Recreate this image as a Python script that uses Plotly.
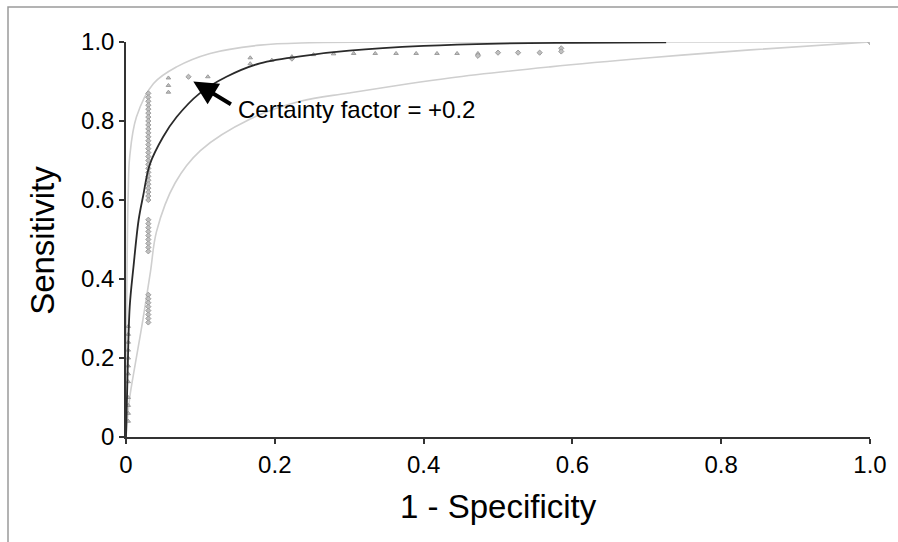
import plotly.graph_objects as go

# Fitted ROC curve (black)
fit_x = [0, 0.002, 0.005, 0.01, 0.017, 0.023, 0.032, 0.05, 0.068, 0.099, 0.135, 0.18, 0.247, 0.3, 0.4, 0.5, 0.6, 0.726]
fit_y = [0, 0.15, 0.33, 0.43, 0.55, 0.61, 0.69, 0.76, 0.81, 0.87, 0.912, 0.946, 0.967, 0.978, 0.99, 0.996, 0.998, 0.999]

# Upper confidence limit (light gray)
up_x = [0, 0.001, 0.003, 0.005, 0.014, 0.037, 0.068, 0.113, 0.18, 0.247, 0.4, 0.6, 0.8, 1.0]
up_y = [0, 0.35, 0.62, 0.71, 0.81, 0.895, 0.937, 0.971, 0.992, 0.998, 1.0, 1.0, 1.0, 1.0]

# Lower confidence limit (light gray)
lo_x = [0, 0.005, 0.012, 0.023, 0.033, 0.041, 0.066, 0.1, 0.167, 0.234, 0.3, 0.435, 0.57, 0.704, 0.839, 1.0]
lo_y = [0, 0.10, 0.18, 0.30, 0.42, 0.52, 0.643, 0.725, 0.805, 0.85, 0.871, 0.909, 0.937, 0.96, 0.98, 1.0]

# Observed operating points (gray markers)
col_y = [0.87, 0.86, 0.85, 0.84, 0.83, 0.82, 0.81, 0.80, 0.79, 0.78, 0.77, 0.76, 0.75, 0.74,
         0.73, 0.72, 0.71, 0.70, 0.69, 0.68, 0.67, 0.66, 0.65, 0.64, 0.63, 0.62, 0.61, 0.60,
         0.55, 0.54, 0.53, 0.52, 0.51, 0.50, 0.49, 0.48, 0.47,
         0.36, 0.35, 0.34, 0.33, 0.32, 0.31, 0.30, 0.29]
col_x = [0.03] * len(col_y)

low_y = [0.28, 0.26, 0.24, 0.22, 0.20, 0.18, 0.16, 0.14, 0.10, 0.08, 0.06, 0.04]
low_x = [0.003] * len(low_y)

tri_x = [0.057, 0.057, 0.057, 0.110, 0.167, 0.167, 0.196, 0.223, 0.252, 0.279, 0.306, 0.335, 0.363, 0.390, 0.418, 0.445, 0.473]
tri_y = [0.909, 0.89, 0.873, 0.912, 0.96, 0.945, 0.954, 0.963, 0.968, 0.970, 0.971, 0.971, 0.971, 0.971, 0.971, 0.971, 0.971]

dia_x = [0.084, 0.223, 0.473, 0.500, 0.527, 0.556, 0.585, 0.585, 1.0]
dia_y = [0.912, 0.958, 0.965, 0.973, 0.973, 0.973, 0.984, 0.976, 1.0]

tick_vals = [0, 0.2, 0.4, 0.6, 0.8, 1.0]
tick_text = ["0", "0.2", "0.4", "0.6", "0.8", "1.0"]

gray = "#9c9c9c"
FONT = "Liberation Sans, Arial, sans-serif"

fig = go.Figure()
fig.add_trace(go.Scatter(x=lo_x, y=lo_y, mode="lines", line=dict(color="#cfcfcf", width=1.6), line_shape="spline"))
fig.add_trace(go.Scatter(x=up_x, y=up_y, mode="lines", line=dict(color="#cfcfcf", width=1.6), line_shape="spline"))
fig.add_trace(go.Scatter(x=col_x, y=col_y, mode="markers",
                         marker=dict(symbol="diamond", size=4, color="#c0c0c0", line=dict(color=gray, width=1))))
fig.add_trace(go.Scatter(x=low_x, y=low_y, mode="markers",
                         marker=dict(symbol="triangle-up", size=4, color="#c0c0c0", line=dict(color=gray, width=1))))
fig.add_trace(go.Scatter(x=tri_x, y=tri_y, mode="markers",
                         marker=dict(symbol="triangle-up", size=4, color="#c0c0c0", line=dict(color=gray, width=1))))
fig.add_trace(go.Scatter(x=dia_x, y=dia_y, mode="markers",
                         marker=dict(symbol="diamond", size=4, color="#c0c0c0", line=dict(color=gray, width=1))))
fig.add_trace(go.Scatter(x=fit_x, y=fit_y, mode="lines", line=dict(color="#2a2a2a", width=1.8), line_shape="spline"))

fig.add_annotation(x=0.0905, y=0.9, ax=0.143, ay=0.84, xref="x", yref="y", axref="x", ayref="y",
                   text="", showarrow=True, arrowhead=2, arrowsize=1.2, arrowwidth=4, arrowcolor="#000")
fig.add_annotation(x=0.148, y=0.828, xref="x", yref="y", text="Certainty factor = +0.2",
                   showarrow=False, xanchor="left", yanchor="middle",
                   font=dict(family=FONT, size=24, color="#000"))

# axis titles
fig.add_annotation(x=0.5, y=-0.175, xref="paper", yref="paper", text="1 - Specificity",
                   showarrow=False, xanchor="center", yanchor="middle",
                   font=dict(family=FONT, size=33, color="#000"))
fig.add_annotation(x=-0.1116, y=0.499, xref="paper", yref="paper", text="Sensitivity", textangle=-90,
                   showarrow=False, xanchor="center", yanchor="middle",
                   font=dict(family=FONT, size=33, color="#000"))

# outer frame
fig.add_shape(type="rect", xref="paper", yref="paper", x0=-0.1586, y0=-0.5, x1=1.2, y1=1.0886,
              line=dict(color="#9a9a9a", width=1.5), layer="below")

fig.update_layout(
    width=898, height=542,
    margin=dict(l=126, r=28, t=42, b=105),
    paper_bgcolor="white", plot_bgcolor="white",
    showlegend=False,
    font=dict(family=FONT, color="#000"),
)
fig.update_xaxes(range=[0, 1], tickvals=tick_vals, ticktext=tick_text, showgrid=False, zeroline=False,
                 showline=True, linecolor="#333", linewidth=1.5, ticks="outside", ticklen=5,
                 tickcolor="#333", tickwidth=1.5, tickfont=dict(size=24))
fig.update_yaxes(range=[0, 1], tickvals=tick_vals, ticktext=tick_text, showgrid=False, zeroline=False,
                 showline=True, linecolor="#333", linewidth=1.5, ticks="outside", ticklen=5,
                 tickcolor="#333", tickwidth=1.5, tickfont=dict(size=24))

fig.write_html("out.html", config={"displayModeBar": False},
               post_script="document.body.style.margin='0';document.body.style.overflow='hidden';")
